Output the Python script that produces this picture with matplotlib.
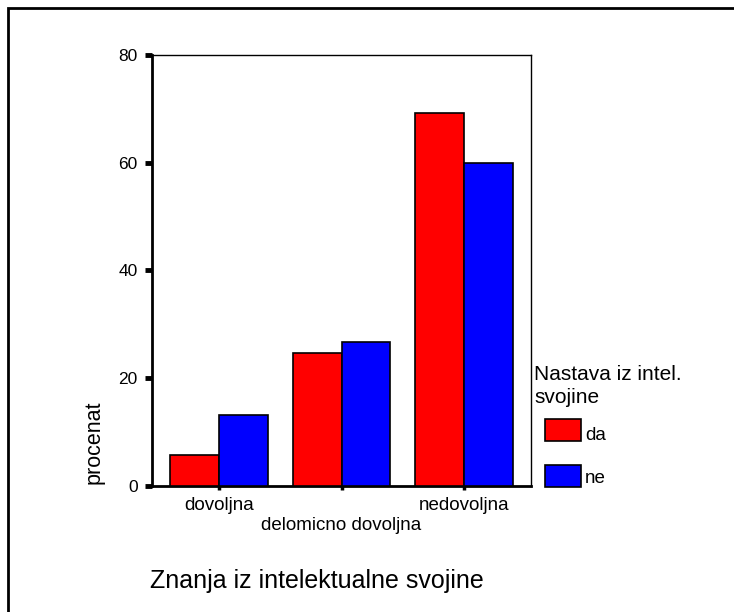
import matplotlib
matplotlib.use("Agg")
import matplotlib.pyplot as plt
from matplotlib.patches import Rectangle
import numpy as np

categories = ["dovoljna", "delomicno dovoljna", "nedovoljna"]
series_names = ["da", "ne"]
da_values = [5.8, 24.7, 69.3]
ne_values = [13.2, 26.7, 60.0]
series_values = [da_values, ne_values]
colors = ["#ff0000", "#0000ff"]
yticks = [0, 20, 40, 60, 80]

plt.rcParams['font.family'] = ['Liberation Sans', 'DejaVu Sans']

fig = plt.figure(figsize=(7.34, 6.12), dpi=100)
W, H = 734, 612
ax = fig.add_axes([151.7 / W, 1 - 486 / H, (530.7 - 151.7) / W, (486 - 55) / H])

x = np.arange(len(categories))
bw = 0.4
for i, (vals, c) in enumerate(zip(series_values, colors)):
    ax.bar(x + (i - 0.5) * bw, vals, width=bw, color=c, edgecolor="black", linewidth=1.2, zorder=3)

ax.set_xlim(-0.55, 2.545)
ax.set_ylim(0, 80)
ax.set_yticks(yticks)
ax.set_yticklabels([str(v) for v in yticks], fontsize=12.5)
ax.set_xticks(x)
ax.set_xticklabels([])
ax.tick_params(axis='y', direction='out', length=5, width=3.5, pad=5)
ax.tick_params(axis='x', direction='out', length=3, width=2.5, pad=2)
for side in ["left", "bottom"]:
    ax.spines[side].set_linewidth(2)
for side in ["top", "right"]:
    ax.spines[side].set_linewidth(1)

# staggered category labels
for i, cat in enumerate(categories):
    off = 24 if i % 2 == 0 else 44
    ax.annotate(cat, xy=(x[i], 0), xycoords=('data', 'axes fraction'),
                xytext=(0, -off), textcoords='offset pixels',
                ha='center', va='baseline', fontsize=13.5)

fig.text(94 / W, 1 - 484 / H, "procenat", rotation=90, ha='center', va='bottom', fontsize=15.5)
fig.text(150 / W, 1 - 588 / H, "Znanja iz intelektualne svojine", ha='left', va='baseline', fontsize=18)

# legend
fig.text(534 / W, 1 - 403 / H, "Nastava iz intel.\nsvojine", ha='left', va='baseline',
         fontsize=15, linespacing=1.25)
leg_y = [419, 465]
leg_base = [440, 483]
for name, c, y0, yb in zip(series_names, colors, leg_y, leg_base):
    fig.add_artist(Rectangle((545 / W, 1 - (y0 + 21.5) / H), 36 / W, 21.5 / H,
                             facecolor=c, edgecolor='black', linewidth=1.2,
                             transform=fig.transFigure))
    fig.text(585 / W, 1 - yb / H, name, ha='left', va='baseline', fontsize=13.5)

# outer frame (left and top visible)
fig.add_artist(Rectangle((8 / W, -0.05), 1.2, 1 - 8 / H + 0.05, fill=False,
                         edgecolor='black', linewidth=2, transform=fig.transFigure))

fig.savefig("out.png", dpi=100)
